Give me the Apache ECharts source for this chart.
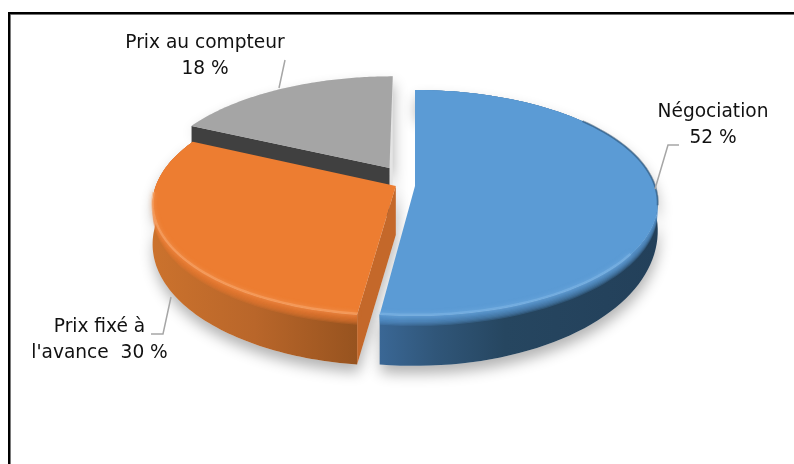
<!DOCTYPE html>
<html>
<head>
<meta charset="utf-8">
<style>html,body{margin:0;padding:0;background:#fff}#chart{width:794px;height:464px}</style>
<script src="https://cdn.jsdelivr.net/npm/echarts@6/dist/echarts.min.js"></script>
</head>
<body>
<div id="chart"></div>
<script>
// Pricing modes, in percent, clockwise from twelve o'clock.
const categories = ['Négociation', "Prix fixé à l'avance", 'Prix au compteur'];
const shares = [52, 30, 18];

// Colours of each slice: top face, cut face, outer wall (left to right along x).
const topColors = ['#5b9bd5', '#ed7d31', '#a5a5a5'];
const cutColors = ['#2a4e70', '#c4682a', '#404040'];
const wallStops = [
  [[0, '#3a6795'], [0.2, '#305679'], [0.45, '#264660'], [1, '#23405a']],
  [[0, '#cb722d'], [0.5, '#b9662a'], [1, '#97531f']],
  [[0, '#7a7a7a'], [1, '#6a6a6a']]
];
const rimColors = ['#7fb6e6', '#f8a86e', '#bdbdbd'];

// Perspective projection of the pie's plane onto the page.
const ORIGIN = [415, 186], RX = 240, RY = 110.4, TILT = 0.15, BEVEL = 10, CUT_DEPTH = 49;
// Wall height grows towards the viewer: base + gain * nearness.
const wallBase = [24, 38, 0], wallGain = [26, 12, 0];
// Nearness from which the lit rim starts.
const rimFrom = [0.55, 0.05, 2];
// Each slice's pull-out from the centre, in units of the radius.
const pullOut = [[0, 0], [-0.08, 0], [-0.109, -0.167]];
// Back-to-front drawing order.
const paintOrder = [2, 0, 1];

const project = (u, v) => {
  const w = 1 - TILT * v;
  return [ORIGIN[0] + RX * u / w, ORIGIN[1] + RY * v / w];
};
const sum = shares.reduce((a, b) => a + b, 0);
const starts = shares.map((_, i) => shares.slice(0, i).reduce((a, b) => a + b, 0));

// Outer edge of a slice; each point also carries its nearness to the viewer.
function arcPoints(i) {
  const a0 = starts[i] / sum * 2 * Math.PI, a1 = (starts[i] + shares[i]) / sum * 2 * Math.PI;
  const n = 90, pts = [];
  for (let k = 0; k <= n; k++) {
    const a = a0 + (a1 - a0) * k / n;
    const near = -Math.cos(a);
    const p = project(pullOut[i][0] + Math.sin(a), pullOut[i][1] + near);
    pts.push({ x: p[0], y: p[1], near });
  }
  return pts;
}
const xy = pts => pts.map(p => [p.x, p.y]);
const drop = (pts, depthOf) => pts.map(p => [p.x, p.y + depthOf(p)]);

function renderSlice(params, api) {
  const i = api.value(0);
  const arc = arcPoints(i);
  const apex = project(pullOut[i][0], pullOut[i][1]);
  const top = xy(arc);
  const wallDepth = p => wallBase[i] + wallGain[i] * Math.max(p.near, 0);
  const lowArc = drop(arc, wallDepth);
  const base = paintOrder.indexOf(i) * 10 + 10;
  const children = [];

  // Soft cast shadow under the whole slice.
  const hull = i === 2
    ? [apex].concat(top, [[top[top.length - 1][0], apex[1] + CUT_DEPTH], [apex[0], apex[1] + CUT_DEPTH]])
    : [apex].concat(top, lowArc.slice().reverse(), [[apex[0], apex[1] + CUT_DEPTH]]);
  children.push({
    type: 'polygon', z2: 1, shape: { points: hull },
    style: { fill: '#e4e4e4', shadowBlur: 14, shadowColor: 'rgba(0,0,0,0.3)', shadowOffsetX: 1, shadowOffsetY: 8 }
  });
  if (wallGain[i] > 0) {
    // Outer wall.
    children.push({
      type: 'polygon', z2: base, shape: { points: top.concat(lowArc.slice().reverse()) },
      style: { fill: new echarts.graphic.LinearGradient(0, 0, 1, 0,
        wallStops[i].map(s => ({ offset: s[0], color: s[1] }))) }
    });
    // Bevel between wall and top face, built up from translucent bands.
    const bands = 8;
    for (let b = 0; b < bands; b++) {
      const d = BEVEL * (1 - b / bands);
      children.push({
        type: 'polygon', z2: base + 1,
        shape: { points: top.concat(drop(arc, () => d).reverse()) },
        style: { fill: topColors[i], opacity: 0.22 }
      });
    }
  }
  // Cut faces that turn towards the viewer.
  if (i !== 0) {
    const end = arc[0];
    children.push({
      type: 'polygon', z2: base + 2,
      shape: { points: [apex, [end.x, end.y],
        [end.x, end.y + (i === 1 ? wallDepth(end) : CUT_DEPTH)], [apex[0], apex[1] + CUT_DEPTH]] },
      style: { fill: cutColors[i] }
    });
  }
  // Top face.
  children.push({
    type: 'polygon', z2: base + 3, shape: { points: [apex].concat(top) },
    style: { fill: topColors[i] }
  });
  // Lit rim along the front of the slice.
  const rim = arc.filter(p => p.near >= rimFrom[i]);
  if (rim.length > 1) {
    children.push({
      type: 'polyline', z2: base + 4, shape: { points: xy(rim).map(p => [p[0], p[1] - 1]) },
      style: { fill: null, stroke: rimColors[i], lineWidth: 2.5, opacity: 0.55,
        shadowBlur: 4, shadowColor: rimColors[i] }
    });
  }
  // Thin shaded fringe where the large slice's edge turns away.
  if (i === 0) {
    const fringe = arc.filter(p => p.near > -0.65 && p.near < 0.2);
    children.push({
      type: 'polyline', z2: base + 4, shape: { points: xy(fringe) },
      style: { fill: null, stroke: '#2a4e70', lineWidth: 2, opacity: 0.55 }
    });
  }
  return { type: 'group', children };
}

// Label text follows the shares; line breaks differ per slice.
const labelText = [
  `${categories[0]}\n${shares[0]} %`,
  `Prix fixé à\nl'avance  ${shares[1]} %`,
  `${categories[2]}\n${shares[2]} %`
];
const labelCentres = [[713, 125], [99.5, 340], [205, 56]];
const leaders = [
  [[655, 189], [668, 145], [679, 145]],
  [[171, 297], [163, 334], [151, 334]],
  [[285, 60], [279, 88]]
];

const chart = echarts.init(document.getElementById('chart'), null, { renderer: 'canvas' });
chart.setOption({
  animation: false,
  backgroundColor: '#ffffff',
  graphic: [
    { type: 'rect', silent: true, z: 1, shape: { x: 8, y: 12, width: 786, height: 3 }, style: { fill: '#999' } },
    { type: 'rect', silent: true, z: 1, shape: { x: 8, y: 12, width: 3, height: 452 }, style: { fill: '#999' } },
    { type: 'rect', silent: true, z: 2, shape: { x: 8, y: 12, width: 786, height: 2.2 }, style: { fill: '#000' } },
    { type: 'rect', silent: true, z: 2, shape: { x: 8, y: 12, width: 2.2, height: 452 }, style: { fill: '#000' } },
    ...leaders.map(points => ({
      type: 'polyline', silent: true, z: 20, shape: { points },
      style: { fill: null, stroke: '#a6a6a6', lineWidth: 1.5 }
    })),
    ...labelText.map((text, i) => ({
      type: 'text', silent: true, z: 21, x: labelCentres[i][0], y: labelCentres[i][1],
      style: {
        text, fill: '#111', align: 'center', verticalAlign: 'middle',
        font: '18.6px "DejaVu Sans"', lineHeight: 26
      }
    }))
  ],
  series: [{
    type: 'custom',
    coordinateSystem: 'none',
    silent: true,
    renderItem: renderSlice,
    data: paintOrder.map(i => [i, shares[i]])
  }]
});
</script>
</body>
</html>
